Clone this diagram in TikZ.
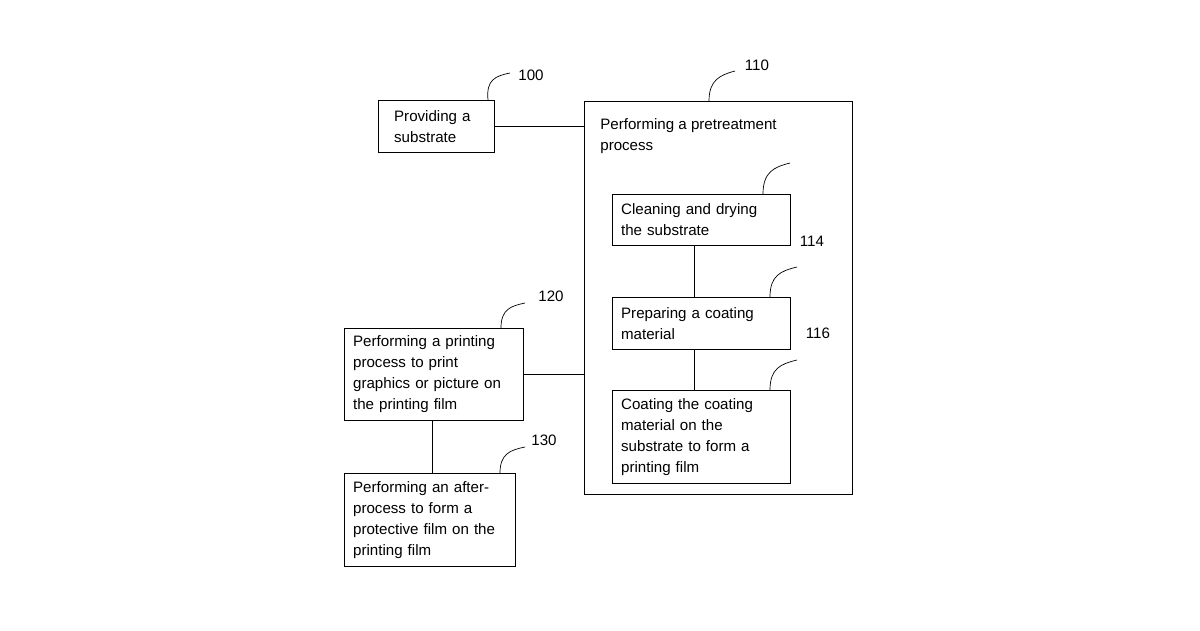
\documentclass[tikz,border=0pt]{standalone}
\usepackage{fontspec}
\setmainfont{Liberation Sans}
\begin{document}
\begin{tikzpicture}[x=0.02cm,y=-0.02cm,
    stage/.style={draw, thin, anchor=north west, align=left, inner sep=0pt, font=\fontsize{8.6}{11.9}\selectfont},
    tag/.style={font=\fontsize{8.6}{10}\selectfont},
    lead/.style={thin}]
    \useasboundingbox (0,0) rectangle (1200,630);

    % left column
    \node[stage, minimum width=2.32cm, minimum height=1.04cm, text width=2.32cm] (sub) at (378,100) {\hspace*{9pt}Providing a\\\hspace*{9pt}substrate};
    \node[stage, minimum width=3.58cm, minimum height=1.84cm, text width=3.58cm] (print) at (344,328) {\hspace*{5pt}Performing a printing\\\hspace*{5pt}process to print\\\hspace*{5pt}graphics or picture on\\\hspace*{5pt}the printing film};
    \node[stage, minimum width=3.42cm, minimum height=1.86cm, text width=3.42cm] (after) at (344,473) {\hspace*{5pt}Performing an after-\\\hspace*{5pt}process to form a\\\hspace*{5pt}protective film on the\\\hspace*{5pt}printing film};

    % pretreatment block
    \node[draw, thin, anchor=north west, minimum width=5.36cm, minimum height=7.86cm, inner sep=0pt] (pre) at (584,101) {};
    \node[anchor=north west, align=left, inner sep=0pt, font=\fontsize{8.6}{11.9}\selectfont] (pretxt) at (600,118) {Performing a pretreatment\\process};
    \node[stage, minimum width=3.56cm, minimum height=1.02cm, text width=3.56cm] (clean) at (612,194) {\hspace*{5pt}Cleaning and drying\\\hspace*{5pt}the substrate};
    \node[stage, minimum width=3.56cm, minimum height=1.04cm, text width=3.56cm] (prep) at (612,297) {\hspace*{5pt}Preparing a coating\\\hspace*{5pt}material};
    \node[stage, minimum width=3.56cm, minimum height=1.86cm, text width=3.56cm] (coat) at (612,390) {\hspace*{5pt}Coating the coating\\\hspace*{5pt}material on the\\\hspace*{5pt}substrate to form a\\\hspace*{5pt}printing film};

    % connectors
    \draw[thin] (sub.east) -- (sub.east -| pre.west);
    \draw[thin] (print.east) -- (print.east -| pre.west);
    \draw[thin] ([xshift=-0.03cm]print.south) -- ([xshift=-0.03cm]print.south |- after.north);
    \draw[thin] ([xshift=-0.14cm]clean.south) -- ([xshift=-0.14cm]clean.south |- prep.north);
    \draw[thin] ([xshift=-0.14cm]prep.south) -- ([xshift=-0.14cm]prep.south |- coat.north);

    % reference numerals
    \node[tag] (t100) at (531,75) {100};
    \node[tag] (t110) at (757,65) {110};
    \node[tag] (t114) at (812,241) {114};
    \node[tag] (t116) at (818,333) {116};
    \node[tag] (t120) at (551,296) {120};
    \node[tag] (t130) at (544,440) {130};
    \draw[lead] (488,100) .. controls (486,80) and (495,76) .. (510,73);
    \draw[lead] (709,101) .. controls (709,80) and (720,75) .. (735,71);
    \draw[lead] (763,194) .. controls (763,172) and (774,167) .. (790,163);
    \draw[lead] (770,297) .. controls (770,276) and (780,271) .. (797,267);
    \draw[lead] (770,390) .. controls (770,369) and (780,364) .. (797,360);
    \draw[lead] (501,328) .. controls (501,309) and (511,306) .. (525,303);
    \draw[lead] (500,473) .. controls (500,454) and (510,450) .. (525,447);
\end{tikzpicture}
\end{document}
